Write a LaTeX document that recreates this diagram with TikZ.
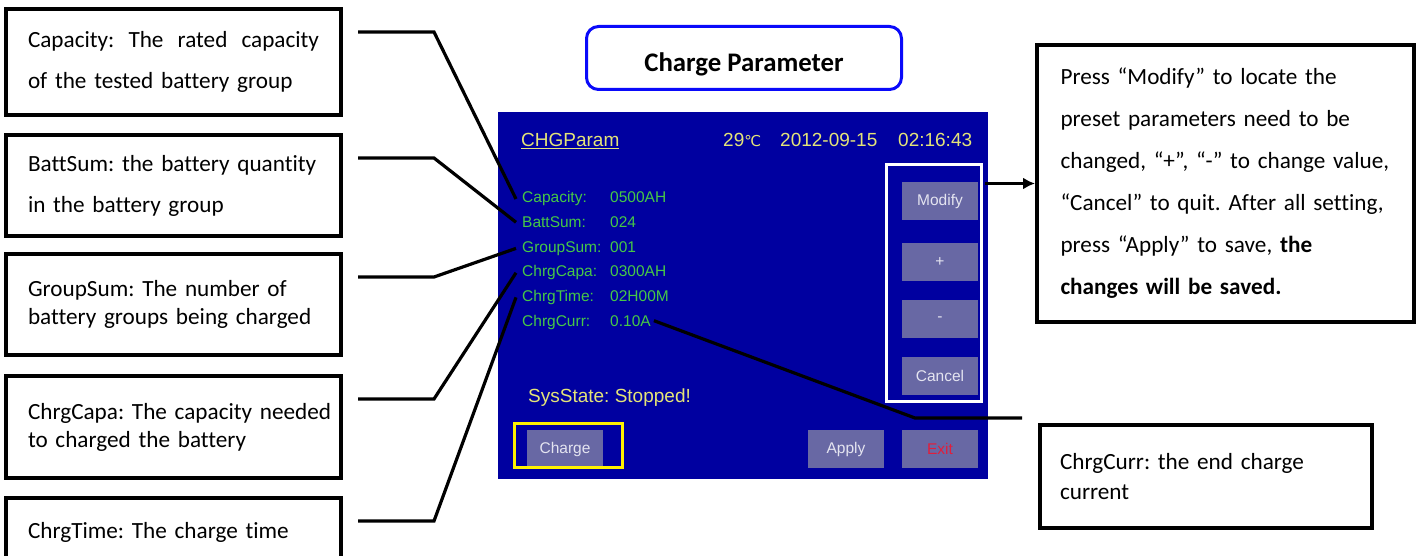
\documentclass[tikz,border=0pt]{standalone}
\usepackage{fontspec}
\setmainfont{Carlito}[Ligatures=NoCommon]
\newfontfamily\lcdfont{Liberation Sans}
\newfontfamily\degfont{DejaVu Sans}
\frenchspacing
\hyphenpenalty=10000
\exhyphenpenalty=10000
\usepackage{tikz}
\usetikzlibrary{calc,arrows.meta}
\definecolor{scrblue}{RGB}{0,0,160}
\definecolor{btnfill}{RGB}{104,104,164}
\definecolor{btntext}{RGB}{228,228,240}
\definecolor{lcdgreen}{RGB}{70,200,70}
\definecolor{lcdyellow}{RGB}{228,228,120}
\definecolor{exitred}{RGB}{225,30,60}
\definecolor{ttlblue}{RGB}{10,10,250}

\begin{document}
\begin{tikzpicture}[x=1pt,y=-1pt]
\tikzstyle{note}=[draw, line width=4pt, anchor=north west, outer sep=0pt,
                  inner xsep=22pt, inner ysep=0pt, text width=291pt, align=left,
                  font=\fontsize{23.2}{41}\selectfont]
\tikzstyle{conn}=[line width=3.2pt]
\tikzstyle{lcdtxt}=[anchor=base west, inner sep=0pt, text=lcdgreen,
                    font=\lcdfont\fontsize{15.5}{18}\selectfont]
\tikzstyle{hdr}=[anchor=base west, inner sep=0pt, text=lcdyellow,
                 font=\lcdfont\fontsize{19}{22}\selectfont]
\tikzstyle{btn}=[anchor=north west, fill=btnfill, inner sep=0pt, outer sep=0pt,
                 minimum width=76pt, minimum height=38pt, text=btntext,
                 font=\lcdfont\fontsize{15.5}{18}\selectfont]
\useasboundingbox (0,0) rectangle (1424,556);
%\fill[white] (0,0) rectangle (1424,556);
% notes on the left
\node[note, minimum height=106pt] (capnote) at (6,9)
  {Capacity:\hfill The\hfill rated\hfill capacity\\of~the~tested~battery~group};
\node[note, minimum height=101pt] (batnote) at (6,135)
  {BattSum:~the~battery~quantity\\in~the~battery~group};
\node[note, minimum height=101pt, font=\fontsize{23.2}{28}\selectfont] (grpnote) at (6,254)
  {GroupSum:~The~number~of\\battery~groups~being~charged};
\node[note, minimum height=102pt, font=\fontsize{23.2}{28}\selectfont] (ccanote) at (6,376)
  {ChrgCapa:~The~capacity~needed\\to~charged~the~battery};
\node[note, minimum height=68pt] (ctmnote) at (6,498) {ChrgTime:~The~charge~time};
% title
\node[draw=ttlblue, line width=3pt, rounded corners=12pt, minimum width=315pt,
      minimum height=63pt, text height=29.4pt, text depth=2pt,
      font=\bfseries\fontsize{26.8}{30}\selectfont] (title) at (744,58) {Charge Parameter};
% screen
\node[anchor=north west, fill=scrblue, inner sep=0pt, outer sep=0pt,
      minimum width=490pt, minimum height=367pt] (lcd) at (498,112) {};
\node[hdr] (hdrname) at (521,146.5) {\underline{CHGParam}};
\node[hdr] (temp) at (723,146.5) {29{\degfont\fontsize{15}{18}\selectfont ℃}};
\node[hdr] (date) at (780,146.5) {2012-09-15};
\node[hdr] (clock) at (898,146.5) {02:16:43};
\foreach \n/\t/\v/\i in {cap/Capacity:/0500AH/0, bat/BattSum:/024/1, grp/GroupSum:/001/2,
                         cca/ChrgCapa:/0300AH/3, ctm/ChrgTime:/02H00M/4, ccu/ChrgCurr:/0.10A/5}{
  \node[lcdtxt] (\n) at (522,{203+24.6*\i}) {\t};
  \node[lcdtxt] (\n-v) at (610,{203+24.6*\i}) {\v};
}
\node[hdr] (state) at (528,402) {SysState: Stopped!};
\node[draw=white, line width=3pt, anchor=north west, outer sep=0pt,
      minimum width=95pt, minimum height=237pt] (frame) at (886.5,164.5) {};
\foreach \n/\x/\y/\t in {mod/902/182/Modify, pls/902/243/+, mns/902/300/-, ccl/902/357/Cancel,
                         chg/527/430/Charge, apl/808/430/Apply}{
  \node[btn] (\n) at (\x,\y) {\t};
}
\node[btn, text=exitred] (ext) at (902,430) {Exit};
\node[draw=yellow, line width=3pt, anchor=north west, outer sep=0pt,
      minimum width=108pt, minimum height=44pt] (hilite) at (514.5,423.5) {};
% notes on the right
\node[note, text width=330pt, inner xsep=23.5pt, minimum height=277pt,
      font=\fontsize{23.2}{42}\selectfont] (keynote) at (1037,45)
  {Press~“Modify”~to~locate~the\\preset~parameters~need~to~be\\changed,~“+”,~“-”~to~change~value,\\
   “Cancel”~to~quit.~After~all~setting,\\press~“Apply”~to~save,~\textbf{the}\\\textbf{changes~will~be~saved.}};
\node[note, text width=292pt, inner xsep=20pt, minimum height=103pt,
      font=\fontsize{23.2}{30}\selectfont] (ccunote) at (1040,425)
  {ChrgCurr:~the~end~charge\\current};
% connectors
\foreach \b/\l in {capnote/cap, batnote/bat, grpnote/grp, ccanote/cca, ctmnote/ctm}{
  \draw[conn] ($(\b.north east)+(17,23)$) -- ++(76,0) -- ([xshift=-6pt]\l.west);
}
\coordinate (ccuA) at (915,418);
\coordinate (ccuB) at (1022,418);
\draw[conn] ([xshift=3pt]ccu-v.east) -- (ccuA) -- (ccuB);
\coordinate (arrS) at ($(keynote.west)+(-52,0)$);
\draw[conn, -{Latex[length=12pt,width=12pt]}, shorten >=2pt] (arrS) -- (keynote.west);
\end{tikzpicture}
\end{document}
